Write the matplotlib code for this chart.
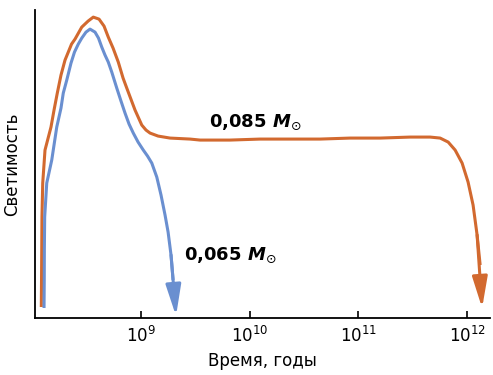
import numpy as np
import matplotlib.pyplot as plt

# 0,085 Msun track: log10(time, yr) and luminosity (arbitrary units)
orange_logt = [8.083, 8.085, 8.087, 8.089, 8.096, 8.117, 8.172, 8.200, 8.230, 8.264,
               8.301, 8.361, 8.393, 8.455, 8.513, 8.561, 8.614, 8.660, 8.699, 8.743,
               8.791, 8.835, 8.869, 8.945, 9.007, 9.046, 9.083, 9.157, 9.267, 9.451,
               9.543, 9.819, 10.095, 10.371, 10.647, 10.923, 11.199, 11.475, 11.659,
               11.751, 11.825, 11.889, 11.953, 12.008, 12.054, 12.091, 12.119, 12.137]
orange_lum = [11, 38, 68, 101, 135, 168, 191, 208, 225, 243,
              258, 274, 279, 291, 297, 301, 299, 292, 281, 270,
              256, 240, 230, 208, 193, 188, 185, 182, 180, 179,
              178, 178, 179, 179, 179, 180, 180, 181, 181,
              180, 176, 168, 155, 136, 113, 83, 53, 10]

# 0,065 Msun track
blue_logt = [8.108, 8.110, 8.111, 8.114, 8.133, 8.179, 8.225, 8.264, 8.285, 8.317,
             8.356, 8.388, 8.423, 8.455, 8.494, 8.531, 8.577, 8.609, 8.639, 8.669,
             8.699, 8.731, 8.777, 8.816, 8.853, 8.890, 8.929, 8.973, 9.021, 9.060,
             9.099, 9.145, 9.184, 9.221, 9.249, 9.276, 9.295, 9.322]
blue_lum = [10, 38, 68, 101, 135, 158, 191, 210, 225, 238,
            255, 266, 274, 280, 286, 289, 286, 280, 271, 263,
            256, 246, 230, 217, 205, 194, 185, 176, 168, 162,
            155, 141, 123, 103, 86, 63, 38, 2]

tick_exps = [9, 10, 11, 12]

orange = "#D2692F"
blue = "#6A8FD0"

fig = plt.figure(figsize=(4.93, 3.75), dpi=100)
ax = fig.add_axes([0.071, 0.152, 0.923, 0.821])


def track(logt, lum, color):
    t = 10 ** np.array(logt)
    ax.plot(t[:-1], lum[:-1], color=color, lw=2.2, solid_capstyle="butt",
            solid_joinstyle="round")
    ax.annotate("", xy=(t[-1], lum[-1]), xytext=(t[-3], lum[-3]),
                arrowprops=dict(arrowstyle="-|>,head_length=1.35,head_width=0.33",
                                color=color, lw=2.2, shrinkA=0, shrinkB=0,
                                mutation_scale=14))


track(orange_logt, orange_lum, orange)
track(blue_logt, blue_lum, blue)

ax.set_xscale("log")
ax.set_xlim(10 ** 8.025, 10 ** 12.21)
ax.set_ylim(0, 308)
ax.set_xticks([10.0 ** e for e in tick_exps])
ax.set_xticklabels([rf"$10^{{{e}}}$" for e in tick_exps])
ax.xaxis.set_minor_locator(plt.NullLocator())
ax.set_yticks([])
ax.tick_params(axis="x", direction="in", length=5, width=1.2, labelsize=12, pad=6)
for s in ["top", "right"]:
    ax.spines[s].set_visible(False)
for s in ["left", "bottom"]:
    ax.spines[s].set_linewidth(1.3)

ax.set_xlabel("Время, годы", fontsize=12, labelpad=4)
ax.set_ylabel("Светимость", fontsize=12, labelpad=10)

ax.text(10 ** 10.049, 196, r"0,085 $\mathbfit{M}_{\odot}$", fontsize=13,
        fontweight="bold", ha="center", va="center")
ax.text(10 ** 9.819, 63, r"0,065 $\mathbfit{M}_{\odot}$", fontsize=13,
        fontweight="bold", ha="center", va="center")

fig.savefig("out.png", dpi=100)
